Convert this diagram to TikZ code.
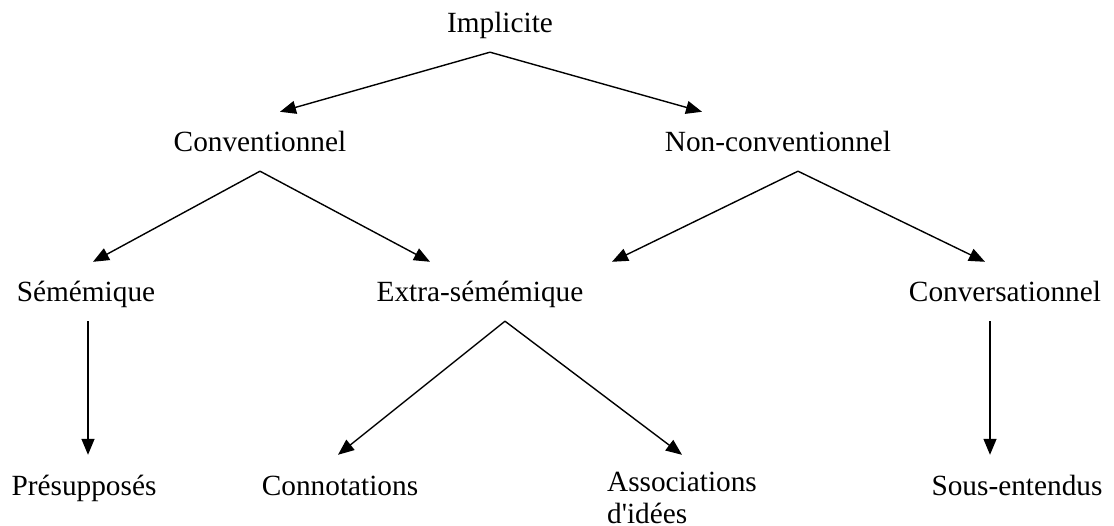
\documentclass[tikz,border=0pt]{standalone}
\usepackage{fontspec}
\setmainfont{Liberation Serif}[Ligatures=TeXOff]
\usetikzlibrary{arrows.meta}

\tikzset{
	lbl/.style={font=\fontsize{29.3}{32}\selectfont, text height=29pt, text depth=8pt, inner xsep=0pt, inner ysep=11pt, anchor=base},
	arr/.style={line width=1.4pt, -{Triangle[length=16pt,width=13pt]}}
}

\begin{document}
\begin{tikzpicture}[x=1pt,y=-1pt]
	\useasboundingbox (0,0) rectangle (1114,526);

	\node[lbl] (impl) at (500,33) {Implicite};

	\node[lbl] (conv) at (260,152) {Conventionnel};
	\node[lbl] (nconv) at (778,152) {Non-conventionnel};

	\node[lbl] (sem) at (86,302) {Sémémique};
	\node[lbl] (xsem) at (480,302) {Extra-sémémique};
	\node[lbl] (convers) at (1005,302) {Conversationnel};

	\node[lbl] (presup) at (84,495) {Présupposés};
	\node[lbl] (connot) at (340,495) {Connotations};
	\node[lbl, align=left, text height=57pt] (assoc) at (682,523) {Associations\\d'idées};
	\node[lbl] (sousent) at (1017,495) {Sous-entendus};

	\draw[arr] ([xshift=-10pt]impl.south) -- ([xshift=20pt]conv.north);
	\draw[arr] ([xshift=-10pt]impl.south) -- ([xshift=-76pt]nconv.north);

	\draw[arr] (conv.south) -- ([xshift=7pt]sem.north);
	\draw[arr] (conv.south) -- ([xshift=-50pt]xsem.north);
	\draw[arr] ([xshift=20pt]nconv.south) -- ([xshift=132pt]xsem.north);
	\draw[arr] ([xshift=20pt]nconv.south) -- ([xshift=-20pt]convers.north);

	\draw[arr] ([xshift=2pt]sem.south) -- ([xshift=4pt]presup.north);
	\draw[arr] ([xshift=25pt]xsem.south) -- ([xshift=-2pt]connot.north);
	\draw[arr] ([xshift=25pt]xsem.south) -- (assoc.north);
	\draw[arr] ([xshift=-15pt]convers.south) -- ([xshift=-27pt]sousent.north);

\end{tikzpicture}
\end{document}
